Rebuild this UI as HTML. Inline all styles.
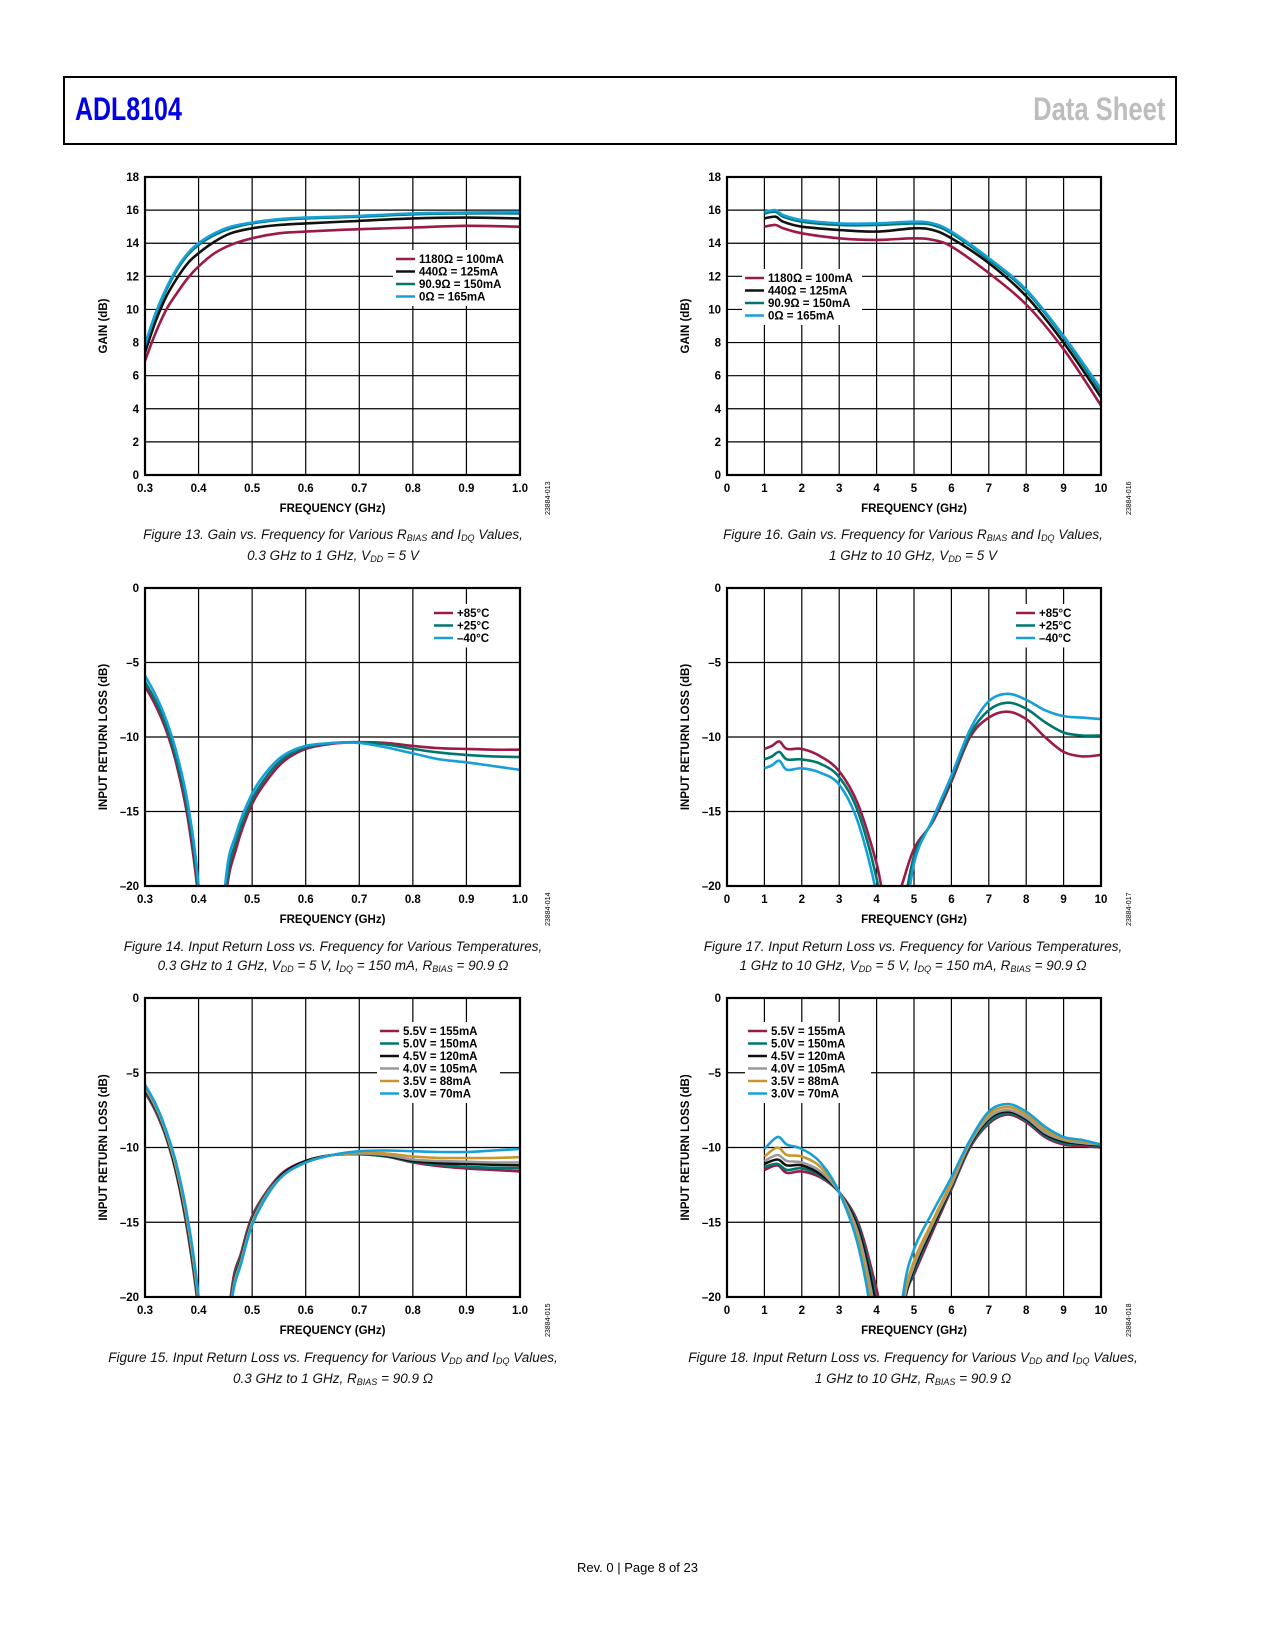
<!DOCTYPE html>
<html><head><meta charset="utf-8">
<style>
html,body{margin:0;padding:0;background:#fff;}
body{width:1275px;height:1650px;position:relative;overflow:hidden;font-family:"Liberation Sans",sans-serif;}
.hdr{position:absolute;left:63px;top:76px;width:1110px;height:65px;border:2px solid #000;}
.ttl{position:absolute;font-family:"Liberation Sans",sans-serif;font-weight:bold;font-size:32px;white-space:nowrap;}
.cap{position:absolute;width:560px;text-align:center;font-style:italic;font-size:13.5px;line-height:19px;color:#111;}
.cap sub{font-size:9px;vertical-align:baseline;position:relative;top:2px;}
.foot{position:absolute;left:0;width:1275px;text-align:center;top:1560px;font-size:13px;}
svg{position:absolute;left:0;top:0;}
</style></head><body>
<div class="hdr"></div>
<div class="ttl" style="left:75px;top:91px;color:#0000e6;transform:scaleX(0.78);transform-origin:left top">ADL8104</div>
<div class="ttl" style="right:110px;top:91px;color:#bdbdbd;transform:scaleX(0.8);transform-origin:right top">Data Sheet</div>

<div class="cap" style="left:53px;top:525px">Figure 13. Gain vs. Frequency for Various R<sub>BIAS</sub> and I<sub>DQ</sub> Values,<br>0.3 GHz to 1 GHz, V<sub>DD</sub> = 5 V</div>
<div class="cap" style="left:633px;top:525px">Figure 16. Gain vs. Frequency for Various R<sub>BIAS</sub> and I<sub>DQ</sub> Values,<br>1 GHz to 10 GHz, V<sub>DD</sub> = 5 V</div>
<div class="cap" style="left:53px;top:937px">Figure 14. Input Return Loss vs. Frequency for Various Temperatures,<br>0.3 GHz to 1 GHz, V<sub>DD</sub> = 5 V, I<sub>DQ</sub> = 150 mA, R<sub>BIAS</sub> = 90.9 Ω</div>
<div class="cap" style="left:633px;top:937px">Figure 17. Input Return Loss vs. Frequency for Various Temperatures,<br>1 GHz to 10 GHz, V<sub>DD</sub> = 5 V, I<sub>DQ</sub> = 150 mA, R<sub>BIAS</sub> = 90.9 Ω</div>
<div class="cap" style="left:53px;top:1348px">Figure 15. Input Return Loss vs. Frequency for Various V<sub>DD</sub> and I<sub>DQ</sub> Values,<br>0.3 GHz to 1 GHz, R<sub>BIAS</sub> = 90.9 Ω</div>
<div class="cap" style="left:633px;top:1348px">Figure 18. Input Return Loss vs. Frequency for Various V<sub>DD</sub> and I<sub>DQ</sub> Values,<br>1 GHz to 10 GHz, R<sub>BIAS</sub> = 90.9 Ω</div>
<div class="foot">Rev. 0 | Page 8 of 23</div>

<svg id="svg" width="1275" height="1650" xmlns="http://www.w3.org/2000/svg"></svg>

<script>
// ---- Figure 13 ----
const f13X = [0.30,0.32,0.34,0.36,0.38,0.40,0.43,0.46,0.50,0.55,0.60,0.70,0.80,0.90,1.00];
const f13Red = [6.9,8.6,10.0,11.0,11.9,12.6,13.4,13.9,14.3,14.6,14.7,14.85,14.95,15.05,15.0];
const f13Black = [7.4,9.3,10.8,11.9,12.8,13.4,14.1,14.6,14.9,15.1,15.2,15.35,15.5,15.55,15.5];
const f13Teal = [7.8,9.7,11.2,12.4,13.3,13.9,14.5,14.9,15.2,15.4,15.5,15.6,15.75,15.8,15.8];
const f13Blue = [7.9,9.8,11.3,12.5,13.4,14.0,14.6,15.0,15.25,15.45,15.55,15.65,15.8,15.85,15.9];
const f13Labels = ["1180Ω = 100mA","440Ω = 125mA","90.9Ω = 150mA","0Ω = 165mA"];
// ---- Figure 16 ----
const f16X = [1,1.3,1.5,2,3,4,5,5.5,6,7,8,9,10];
const f16Red = [15.0,15.1,14.9,14.6,14.3,14.2,14.3,14.2,13.8,12.2,10.3,7.6,4.2];
const f16Black = [15.5,15.6,15.3,15.0,14.8,14.7,14.9,14.8,14.3,12.8,10.8,8.0,4.7];
const f16Teal = [15.8,15.9,15.6,15.3,15.1,15.1,15.2,15.1,14.6,13.0,11.1,8.3,5.0];
const f16Blue = [15.9,16.0,15.7,15.4,15.2,15.2,15.3,15.2,14.7,13.1,11.2,8.4,5.2];
// ---- Figure 14 ----
const f14X = [0.30,0.32,0.34,0.36,0.38,0.40,0.425,0.45,0.47,0.50,0.53,0.56,0.60,0.65,0.70,0.75,0.80,0.85,0.90,0.95,1.00];
const f14Hot = [-6.6,-7.9,-9.6,-12.0,-15.5,-21,-32,-21,-17.5,-14.5,-12.8,-11.6,-10.8,-10.45,-10.35,-10.4,-10.6,-10.75,-10.8,-10.85,-10.85];
const f14Room = [-6.3,-7.6,-9.3,-11.7,-15.0,-20.5,-32,-20.5,-17.0,-14.2,-12.5,-11.4,-10.7,-10.4,-10.35,-10.5,-10.8,-11.05,-11.2,-11.3,-11.35];
const f14Cold = [-5.9,-7.2,-8.9,-11.2,-14.5,-20,-32,-19.8,-16.5,-13.8,-12.2,-11.2,-10.6,-10.4,-10.4,-10.7,-11.1,-11.5,-11.7,-11.95,-12.2];
const tempLabels = ["+85°C","+25°C","–40°C"];
// ---- Figure 17 ----
const f17X = [1,1.2,1.4,1.6,2,2.5,3,3.5,4,4.3,4.6,5,5.5,6,6.5,7,7.5,8,8.5,9,9.5,10];
const f17Hot = [-10.8,-10.6,-10.3,-10.8,-10.8,-11.3,-12.3,-14.5,-18.5,-22,-20.5,-17.5,-15.7,-13.0,-10.0,-8.7,-8.3,-8.8,-10.0,-11.0,-11.3,-11.2];
const f17Room = [-11.5,-11.3,-11.0,-11.5,-11.5,-11.8,-12.7,-15.0,-19.5,-24,-23,-18,-15.6,-12.8,-9.8,-8.2,-7.7,-8.1,-9.0,-9.7,-9.9,-9.9];
const f17Cold = [-12.1,-11.9,-11.6,-12.2,-12.1,-12.4,-13.2,-15.7,-20.5,-25,-25,-18.5,-15.5,-12.6,-9.5,-7.6,-7.1,-7.5,-8.2,-8.6,-8.7,-8.8];
// ---- Figure 15 ----
const f15X = [0.30,0.32,0.34,0.36,0.38,0.40,0.43,0.46,0.48,0.50,0.53,0.56,0.60,0.65,0.70,0.75,0.80,0.85,0.90,0.95,1.00];
const f15V55 = [-6.3,-7.6,-9.4,-12.0,-15.8,-21,-32,-20,-17,-14.6,-12.8,-11.6,-10.9,-10.5,-10.45,-10.6,-11.0,-11.25,-11.4,-11.5,-11.6];
const f15V50 = [-6.2,-7.5,-9.3,-11.9,-15.6,-20.8,-32,-20.3,-17.2,-14.8,-12.9,-11.7,-10.9,-10.5,-10.45,-10.6,-10.95,-11.15,-11.3,-11.35,-11.4];
const f15V45 = [-6.1,-7.4,-9.2,-11.8,-15.4,-20.6,-32,-20.5,-17.4,-14.9,-13.0,-11.7,-10.9,-10.5,-10.4,-10.55,-10.9,-11.05,-11.1,-11.15,-11.2];
const f15V40 = [-6.0,-7.3,-9.1,-11.6,-15.2,-20.4,-32,-20.6,-17.5,-15.0,-13.0,-11.8,-11.0,-10.5,-10.4,-10.5,-10.8,-10.9,-10.95,-11.0,-11.0];
const f15V35 = [-5.9,-7.2,-9.0,-11.5,-15.0,-20.2,-32,-20.7,-17.6,-15.1,-13.1,-11.8,-11.0,-10.5,-10.35,-10.4,-10.6,-10.7,-10.7,-10.7,-10.65];
const f15V30 = [-5.8,-7.1,-8.9,-11.3,-14.8,-20.0,-32,-20.8,-17.7,-15.2,-13.1,-11.8,-11.0,-10.5,-10.25,-10.2,-10.25,-10.3,-10.3,-10.2,-10.1];
const voltLabels = ["5.5V = 155mA","5.0V = 150mA","4.5V = 120mA","4.0V = 105mA","3.5V = 88mA","3.0V = 70mA"];
// ---- Figure 18 ----
const f18X = [1,1.35,1.6,2,2.5,3,3.5,3.9,4.1,4.4,4.7,5,5.5,6,6.5,7,7.5,8,8.5,9,9.5,10];
const f18V55 = [-11.5,-11.2,-11.7,-11.6,-12.0,-13.0,-15.0,-18.5,-21,-28,-20.5,-18.5,-15.6,-12.8,-10.0,-8.4,-7.8,-8.3,-9.3,-9.8,-9.9,-10.0];
const f18V50 = [-11.3,-11.1,-11.5,-11.4,-11.9,-13.0,-15.2,-19.0,-22,-28,-21,-18.3,-15.4,-12.7,-9.9,-8.3,-7.7,-8.2,-9.2,-9.7,-9.8,-9.9];
const f18V45 = [-11.1,-10.8,-11.2,-11.2,-11.8,-13.0,-15.4,-19.5,-23,-28,-21,-18.1,-15.3,-12.6,-9.8,-8.1,-7.6,-8.1,-9.1,-9.6,-9.75,-9.85];
const f18V40 = [-10.9,-10.5,-10.9,-11.0,-11.6,-13.0,-15.7,-20.2,-24,-28,-20.8,-17.9,-15.1,-12.5,-9.7,-8.0,-7.5,-8.0,-9.0,-9.5,-9.7,-9.8];
const f18V35 = [-10.6,-10.0,-10.5,-10.6,-11.3,-13.0,-16.1,-21,-25,-28,-20.6,-17.6,-14.9,-12.3,-9.6,-7.8,-7.3,-7.8,-8.8,-9.4,-9.6,-9.8];
const f18V30 = [-10.1,-9.3,-9.8,-10.1,-11.0,-13.0,-16.5,-22,-28,-28,-20.0,-16.8,-14.3,-12.0,-9.5,-7.6,-7.1,-7.6,-8.6,-9.3,-9.5,-9.8];

const gainX1 = ["0.3","0.4","0.5","0.6","0.7","0.8","0.9","1.0"];
const gainX2 = ["0","1","2","3","4","5","6","7","8","9","10"];
const gainTicksY = [0,2,4,6,8,10,12,14,16,18];
const rlTicksY = [0,-5,-10,-15,-20];

const RED="#9c1a48", TEAL="#00776e", BLK="#111", BLUE="#18a0d6", GRAY="#9a9a9a", GOLD="#c8962c";
const NS="http://www.w3.org/2000/svg";
const svg=document.getElementById('svg');
function mk(tag,attrs,parent){const e=document.createElementNS(NS,tag);for(const k in attrs)e.setAttribute(k,attrs[k]);(parent||svg).appendChild(e);return e;}
function smooth(pts){
  let d='M'+pts[0][0].toFixed(1)+','+pts[0][1].toFixed(1);
  for(let i=0;i<pts.length-1;i++){
    const p0=pts[i-1]||pts[i],p1=pts[i],p2=pts[i+1],p3=pts[i+2]||p2;
    const c1=[p1[0]+(p2[0]-p0[0])/6,p1[1]+(p2[1]-p0[1])/6];
    const c2=[p2[0]-(p3[0]-p1[0])/6,p2[1]-(p3[1]-p1[1])/6];
    d+='C'+c1[0].toFixed(1)+','+c1[1].toFixed(1)+' '+c2[0].toFixed(1)+','+c2[1].toFixed(1)+' '+p2[0].toFixed(1)+','+p2[1].toFixed(1);
  }
  return d;
}

let clipId=0;
function chart(o){
  const g=mk('g',{});
  
  
  const L=o.L,T=o.T,R=o.R,B=o.B;
  const sx=v=>L+(v-o.x0)/(o.x1-o.x0)*(R-L);
  const sy=v=>B-(v-o.y0)/(o.y1-o.y0)*(B-T);
  o.xt.forEach(t=>{const v=parseFloat(t);const x=sx(v);
    const gl=mk('line',{x1:x,x2:x,y1:T,y2:B,stroke:'#000','stroke-width':1.2},g);
    
    
    const tl=mk('text',{x:x,y:B+17,'text-anchor':'middle','font-size':11.5,'font-weight':'bold','font-family':'Liberation Sans, sans-serif'},g);
    tl.textContent=t;
    
    
  });
  o.yt.forEach(v=>{const y=sy(v);
    const gl=mk('line',{x1:L,x2:R,y1:y,y2:y,stroke:'#000','stroke-width':1.2},g);
    
    
    const tl=mk('text',{x:L-6,y:y+4,'text-anchor':'end','font-size':11.5,'font-weight':'bold','font-family':'Liberation Sans, sans-serif'},g);
    tl.textContent=v<0?('–'+(-v)):String(v);
    
    
  });
  const cid='c'+(clipId++);
  const cp=mk('clipPath',{id:cid},g); mk('rect',{x:L,y:T,width:R-L,height:B-T},cp);
  const sg=mk('g',{'clip-path':'url(#'+cid+')'},g);
  o.series.forEach(s=>{
    const pts=o.x.map((xv,i)=>[sx(xv),sy(s.y[i])]);
    const p=mk('path',{d:smooth(pts),fill:'none',stroke:s.c,'stroke-width':2.6,'stroke-linejoin':'round'},sg);
    
    
  });
  const fr=mk('rect',{x:L,y:T,width:R-L,height:B-T,fill:'none',stroke:'#000','stroke-width':2.2},g);
  
  
  const lg=mk('g',{},g);
  
  
  mk('rect',{x:o.lx,y:o.ly,width:o.lw,height:o.series.length*12.5+6,fill:'#fff'},lg);
  o.series.forEach((s,i)=>{const y=o.ly+9+i*12.5;
    const le=mk('g',{},lg);
    
    
    mk('line',{x1:o.lx+3,x2:o.lx+22,y1:y,y2:y,stroke:s.c,'stroke-width':2.6},le);
    const t=mk('text',{x:o.lx+26,y:y+4,'font-size':11.5,'font-weight':'bold','font-family':'Liberation Sans, sans-serif'},le);
    t.textContent=o.labels[i];
  });
  const xt=mk('text',{x:(L+R)/2,y:B+37,'text-anchor':'middle','font-size':11.5,'font-weight':'bold','font-family':'Liberation Sans, sans-serif'},g);
  xt.textContent='FREQUENCY (GHz)';
  
  
  const yx=L-38,yy=(T+B)/2;
  const ytt=mk('text',{x:yx,y:yy,'text-anchor':'middle','font-size':11.5,'font-weight':'bold','font-family':'Liberation Sans, sans-serif',transform:'rotate(-90 '+yx+' '+yy+')'},g);
  ytt.textContent=o.ytitle;
  
  
  const ix=R+30,iy=B+40;
  const id=mk('text',{x:ix,y:iy,'text-anchor':'start','font-size':7,'font-family':'Liberation Sans, sans-serif',transform:'rotate(-90 '+ix+' '+iy+')'},g);
  id.textContent=o.id;
  
  
}

const LC={L:145,R:520}, RC={L:727,R:1101};
const R1={T:177,B:475}, R2={T:588,B:886}, R3={T:998,B:1297};

chart({name:'figure-13-chart',...LC,...R1,x0:0.3,x1:1.0,y0:0,y1:18,xt:gainX1,yt:gainTicksY,x:f13X,
  series:[{y:f13Red,c:RED},{y:f13Black,c:BLK},{y:f13Teal,c:TEAL},{y:f13Blue,c:BLUE}],
  labels:f13Labels,lx:393,ly:250,lw:126,ytitle:'GAIN (dB)',id:'23884-013'});
chart({name:'figure-16-chart',...RC,...R1,x0:0,x1:10,y0:0,y1:18,xt:gainX2,yt:gainTicksY,x:f16X,
  series:[{y:f16Red,c:RED},{y:f16Black,c:BLK},{y:f16Teal,c:TEAL},{y:f16Blue,c:BLUE}],
  labels:f13Labels,lx:742,ly:269,lw:120,ytitle:'GAIN (dB)',id:'23884-016'});
chart({name:'figure-14-chart',...LC,...R2,x0:0.3,x1:1.0,y0:-20,y1:0,xt:gainX1,yt:rlTicksY,x:f14X,
  series:[{y:f14Hot,c:RED},{y:f14Room,c:TEAL},{y:f14Cold,c:BLUE}],
  labels:tempLabels,lx:431,ly:604,lw:72,ytitle:'INPUT RETURN LOSS (dB)',id:'23884-014'});
chart({name:'figure-17-chart',...RC,...R2,x0:0,x1:10,y0:-20,y1:0,xt:gainX2,yt:rlTicksY,x:f17X,
  series:[{y:f17Hot,c:RED},{y:f17Room,c:TEAL},{y:f17Cold,c:BLUE}],
  labels:tempLabels,lx:1013,ly:604,lw:72,ytitle:'INPUT RETURN LOSS (dB)',id:'23884-017'});
chart({name:'figure-15-chart',...LC,...R3,x0:0.3,x1:1.0,y0:-20,y1:0,xt:gainX1,yt:rlTicksY,x:f15X,
  series:[{y:f15V55,c:RED},{y:f15V50,c:TEAL},{y:f15V45,c:BLK},{y:f15V40,c:GRAY},{y:f15V35,c:GOLD},{y:f15V30,c:BLUE}],
  labels:voltLabels,lx:377,ly:1022,lw:123,ytitle:'INPUT RETURN LOSS (dB)',id:'23884-015'});
chart({name:'figure-18-chart',...RC,...R3,x0:0,x1:10,y0:-20,y1:0,xt:gainX2,yt:rlTicksY,x:f18X,
  series:[{y:f18V55,c:RED},{y:f18V50,c:TEAL},{y:f18V45,c:BLK},{y:f18V40,c:GRAY},{y:f18V35,c:GOLD},{y:f18V30,c:BLUE}],
  labels:voltLabels,lx:745,ly:1022,lw:126,ytitle:'INPUT RETURN LOSS (dB)',id:'23884-018'});
</script>
</body></html>
